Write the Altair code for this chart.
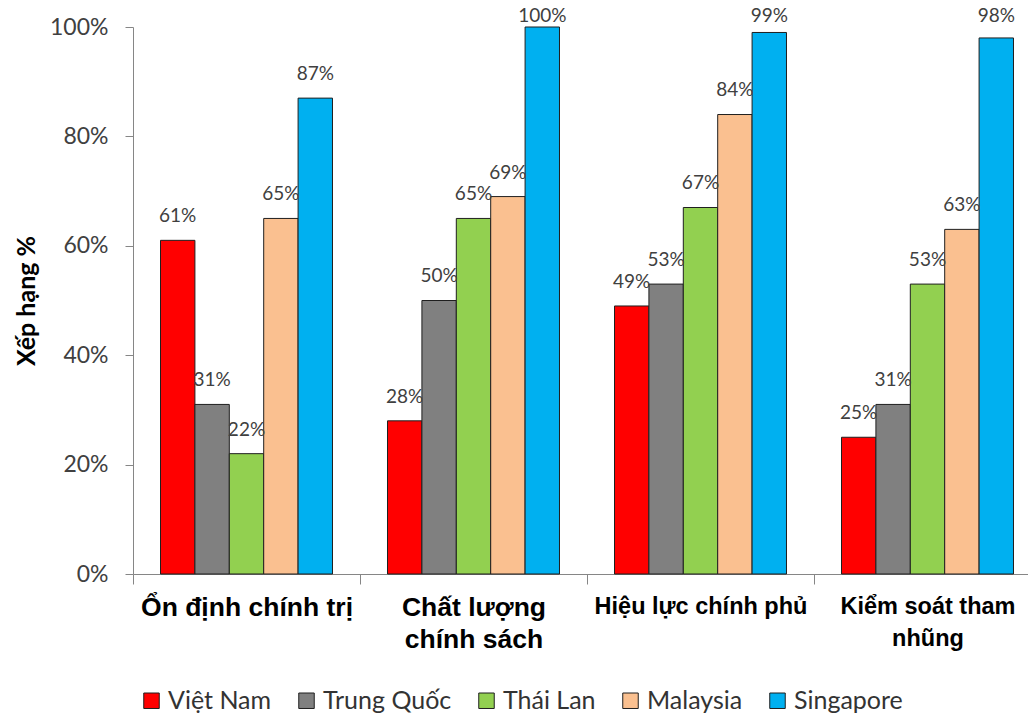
import altair as alt
import pandas as pd

# Governance indicators (percentile rank) for five Asian economies
categories = ["Ổn định chính trị", "Chất lượng chính sách", "Hiệu lực chính phủ", "Kiểm soát tham nhũng"]
countries = ["Việt Nam", "Trung Quốc", "Thái Lan", "Malaysia", "Singapore"]
colors = ["#FF0000", "#808080", "#92D050", "#FAC090", "#00B0F0"]

viet_nam = [0.61, 0.28, 0.49, 0.25]
trung_quoc = [0.31, 0.50, 0.53, 0.31]
thai_lan = [0.22, 0.65, 0.67, 0.53]
malaysia = [0.65, 0.69, 0.84, 0.63]
singapore = [0.87, 1.00, 0.99, 0.98]

# Axis labels that wrap onto two lines
wrapped = {
    "Chất lượng chính sách": ["Chất lượng", "chính sách"],
    "Kiểm soát tham nhũng": ["Kiểm soát tham", "nhũng"],
}

series = [viet_nam, trung_quoc, thai_lan, malaysia, singapore]
rows = []
for country, vals in zip(countries, series):
    for cat, v in zip(categories, vals):
        rows.append({"Chỉ số": cat, "Quốc gia": country, "Giá trị": v})
df = pd.DataFrame(rows)

label_expr = ""
for k, lines in wrapped.items():
    arr = "[" + ", ".join("'" + s + "'" for s in lines) + "]"
    label_expr += f"datum.value == '{k}' ? {arr} : "
label_expr += "datum.value"

PLOT_W = 895
STEP_RANGE = 908

x_enc = alt.X(
    "Chỉ số:N",
    sort=categories,
    scale=alt.Scale(range=[0, STEP_RANGE], paddingInner=0, paddingOuter=0),
    axis=alt.Axis(
        title=None,
        labelAngle=0,
        tickBand="extent",
        tickSize=10,
        tickColor="#868686",
        domainColor="#868686",
        labelFont="Liberation Sans",
        labelFontWeight="bold",
        labelFontSize=alt.condition("datum.index < 0.5", alt.value(26.5), alt.value(23.5)),
        labelColor="#000000",
        labelExpr=label_expr,
        labelLineHeight=32,
        labelPadding=10,
        labelLimit=0,
    ),
)
xoff_enc = alt.XOffset(
    "Quốc gia:N", sort=countries,
    scale=alt.Scale(paddingOuter=0.8, paddingInner=0),
)
y_scale = alt.Scale(domain=[0, 1], nice=False)

base = alt.Chart(df)

bars = base.mark_bar(stroke="#1f1f1f", strokeWidth=1).encode(
    x=x_enc,
    xOffset=xoff_enc,
    y=alt.Y(
        "Giá trị:Q",
        scale=y_scale,
        axis=alt.Axis(
            values=[0, 0.2, 0.4, 0.6, 0.8, 1.0],
            format=".0%",
            grid=False,
            tickSize=8,
            tickColor="#868686",
            domainColor="#868686",
            labelFont="Lato",
            labelFontSize=23,
            labelColor="#404040",
            labelPadding=17,
            title="Xếp hạng %",
            titleFont="Lato",
            titleFontWeight="bold",
            titleFontSize=25,
            titleColor="#000000",
            titlePadding=10,
        ),
    ),
    color=alt.Color(
        "Quốc gia:N",
        sort=countries,
        scale=alt.Scale(domain=countries, range=colors),
        legend=alt.Legend(
            title=None,
            orient="none",
            legendX=6,
            legendY=661,
            direction="horizontal",
            symbolType="square",
            symbolSize=240,
            symbolStrokeColor="#1f1f1f",
            symbolStrokeWidth=1,
            symbolOpacity=1,
            labelFont="Lato",
            labelFontSize=25,
            labelColor="#333333",
            labelOffset=4,
            columnPadding=22,
            labelLimit=0,
        ),
    ),
)

labels = base.transform_calculate(
    pos="min(datum['Giá trị'] + 0.033, 1.009)",
    txt="format(datum['Giá trị'], '.0%')",
).mark_text(
    font="Lato", fontSize=19, color="#404040", baseline="alphabetic", align="center"
).encode(
    x=x_enc,
    xOffset=xoff_enc,
    y=alt.Y("pos:Q", scale=y_scale),
    text="txt:N",
)

chart = (
    alt.layer(bars, labels)
    .properties(
        width=PLOT_W,
        height=547,
        autosize=alt.AutoSizeParams(type="none"),
        padding={"left": 133, "top": 27, "right": 0, "bottom": 142},
        background="white",
    )
    .configure_view(stroke=None)
)

chart.save("out.html", embed_options={"renderer": "svg", "actions": False})
